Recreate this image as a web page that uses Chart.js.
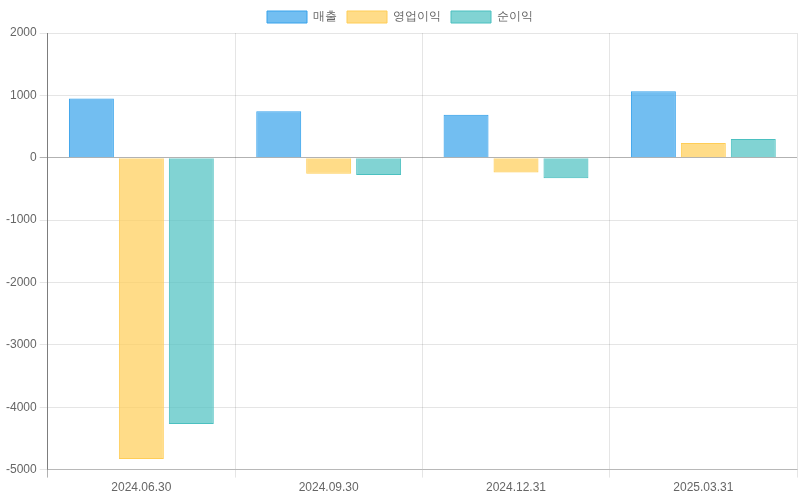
<!DOCTYPE html>
<html>
<head>
<meta charset="utf-8">
<script src="https://cdn.jsdelivr.net/npm/chart.js@4"></script>
<style>
  html, body { margin: 0; padding: 0; background: #fff; }
  #wrap { width: 800px; height: 500px; }
</style>
</head>
<body>
<div id="wrap"><canvas id="finChart"></canvas></div>
<script>
// Quarter labels and values
const periods = ['2024.06.30', '2024.09.30', '2024.12.31', '2025.03.31'];
const sales = [950, 745, 690, 1065];
const operatingProfit = [-4830, -255, -235, 235];
const netProfit = [-4270, -275, -330, 300];
const seriesNames = ['매출', '영업이익', '순이익'];

const gridLight = 'rgba(0, 0, 0, 0.1)';
const gridDark = 'rgba(0, 0, 0, 0.3)';

const ctx = document.getElementById('finChart').getContext('2d');
new Chart(ctx, {
    type: 'bar',
    data: {
        labels: periods,
        datasets: [
            {
                label: seriesNames[0],
                data: sales,
                backgroundColor: 'rgba(54, 162, 235, 0.7)',
                borderColor: 'rgba(54, 162, 235, 1)',
                borderWidth: 1
            },
            {
                label: seriesNames[1],
                data: operatingProfit,
                backgroundColor: 'rgba(255, 205, 86, 0.7)',
                borderColor: 'rgba(255, 205, 86, 1)',
                borderWidth: 1
            },
            {
                label: seriesNames[2],
                data: netProfit,
                backgroundColor: 'rgba(75, 192, 192, 0.7)',
                borderColor: 'rgba(75, 192, 192, 1)',
                borderWidth: 1
            }
        ]
    },
    options: {
        responsive: true,
        maintainAspectRatio: false,
        animation: false,
        layout: {
            padding: { left: 3, right: 3, bottom: 2, top: 1 }
        },
        scales: {
            x: {
                border: { color: 'rgba(0, 0, 0, 0.2)' },
                grid: {
                    color: (c) => c.index === 0 ? gridDark : gridLight
                }
            },
            y: {
                min: -5000,
                max: 2000,
                border: { color: gridDark },
                grid: {
                    // zero line drawn darker like the reference
                    color: (c) => c.tick && c.tick.value === 0 ? gridDark : gridLight
                },
                ticks: {
                    stepSize: 1000,
                    // plain numbers, no thousands separator
                    callback: (value) => String(value)
                }
            }
        },
        plugins: {
            legend: { position: 'top' }
        }
    }
});
</script>
</body>
</html>
